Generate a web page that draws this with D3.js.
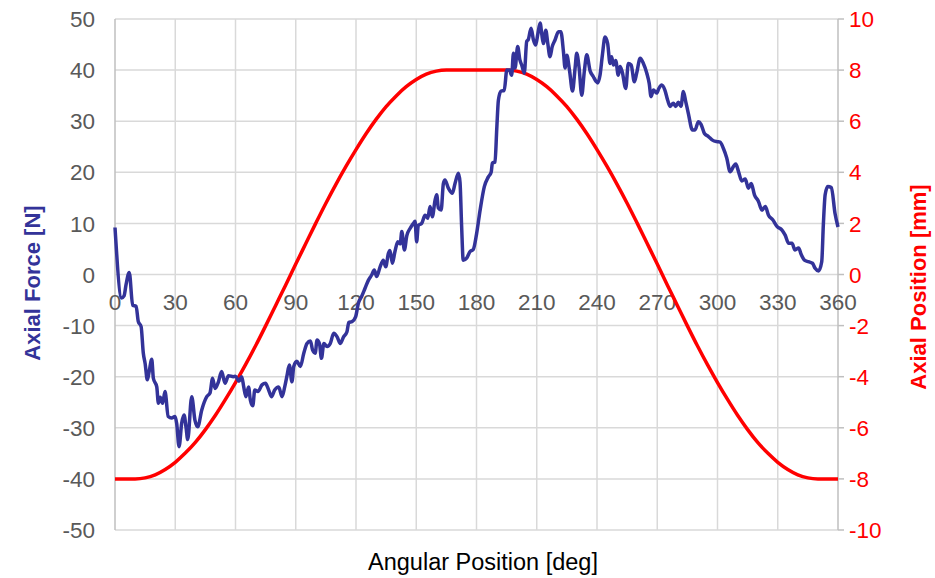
<!DOCTYPE html>
<html>
<head>
<meta charset="utf-8">
<script src="https://cdn.jsdelivr.net/npm/d3@7"></script>
<style>
  html, body { margin: 0; padding: 0; background: #ffffff; }
  svg { display: block; font-family: "Liberation Sans", Arial, sans-serif; }
</style>
</head>
<body>
<svg id="chart" width="935" height="578"></svg>
<script>
// ---------------- DATA ----------------
const xTickLabels = [0, 30, 60, 90, 120, 150, 180, 210, 240, 270, 300, 330, 360];
const forceTickLabels = [-50, -40, -30, -20, -10, 0, 10, 20, 30, 40, 50];
const positionTickLabels = [-10, -8, -6, -4, -2, 0, 2, 4, 6, 8, 10];

// Axial force [N] vs angular position [deg]
const forceDeg = [
  0, 3.3, 4.5, 5.5, 7.1, 8.8, 10.5, 11.6, 13, 14.1, 15, 16.1, 17, 18.3, 19.1, 20.8, 21.6, 22.5, 23.7, 24.9,
  26.5, 28.2, 29.9, 30.7, 31.9, 33.2, 34.4, 35.4, 36.2, 38.2, 39.8, 41.2, 43.2, 45.7, 47.3, 48.6, 49.8, 51.5, 53.1, 54.8,
  56.5, 58.9, 60, 61.7, 63.1, 64.1, 65.2, 66.5, 67.4, 68.6, 69.6, 71.2, 73.2, 74.9, 76.5, 77.9, 79.5, 81.5, 83.2, 84.5,
  85.7, 86.8, 88.1, 89, 90.6, 92.3, 94, 95.6, 97.3, 98.4, 99.7, 100.6, 101.8, 102.8, 104, 105.6, 107.2, 108.9, 110.6, 112.2,
  113.8, 115.5, 116.4, 118.1, 119.8, 121.2, 122.8, 124.5, 126.2, 127.8, 129.1, 130.3, 132, 133.6, 134.8, 136.1, 136.9, 138.1, 139.4, 140.8,
  142, 142.8, 144.1, 145.3, 146.9, 148.6, 149.4, 150.2, 151, 152.7, 154.4, 155.7, 156.9, 158, 159.4, 160.2, 161, 162.4, 163.5, 164.3,
  166, 168, 169.3, 171, 171.8, 172.6, 173.4, 175.1, 176.8, 178.4, 180.1, 181.8, 183.9, 185.9, 187.3, 187.9, 189.2, 190.1, 190.9, 192.2,
  193.8, 195.1, 196.4, 197.5, 198.4, 199.2, 200.5, 201.6, 202.5, 203.8, 205, 205.8, 207.2, 208.3, 209.5, 210.5, 211.7, 212.5, 213.3, 214.5,
  215.5, 216.6, 217.7, 219.1, 220.8, 222, 223.3, 224.1, 225, 226.3, 227.8, 229.1, 229.9, 231.1, 232.4, 233.7, 234.9, 236.6, 238.2, 239.5,
  240.4, 241.5, 242.7, 244, 245.3, 246.5, 247.3, 248.2, 249.3, 250.6, 251.5, 252.6, 254.3, 255.6, 257, 258.6, 259.7, 261.5, 263.1, 264.8,
  266, 266.9, 268.1, 269.7, 270.8, 272.2, 273.8, 275.2, 276.4, 278, 279.2, 280.5, 281.8, 283, 284.2, 285.5, 287.5, 288.8, 290.5, 291.8,
  293.5, 295.5, 297.5, 299.6, 301.3, 302.9, 304.6, 306.3, 307.9, 309.1, 310.5, 312.1, 313.8, 315.4, 316.8, 318.4, 320.4, 322.1, 323.8, 325.4,
  327.5, 329.6, 332.1, 333.7, 335.4, 337.1, 338.6, 340.4, 341.7, 343.3, 345.3, 347.3, 348.6, 350.3, 351.9, 352.7, 353.6, 354.9, 356.7, 358.5,
  360
];
const forceN = [
  9.2, -4.6, -4.2, -2, 0.4, -6, -6.2, -9.2, -10.2, -15.4, -17.4, -20.6, -19, -16.6, -20.3, -22, -25.2, -24, -25.2, -22.9,
  -27.8, -28.1, -27.8, -29.1, -33.7, -29.1, -27.5, -30, -32.3, -23.9, -28.5, -29.8, -26.5, -23.9, -23.2, -20.3, -22.3, -21, -19, -21.3,
  -19.8, -20, -19.9, -20.9, -20, -22, -23.9, -22, -24.6, -25.7, -22.6, -22.9, -21.6, -21.3, -22.6, -23.9, -22.6, -22, -23.9, -22,
  -19.7, -17.7, -21, -18, -17, -18, -15.4, -13.5, -13, -14.8, -15.4, -12.8, -13.5, -16.4, -13.5, -14.1, -13.5, -11.5, -12.2, -13.5,
  -12.2, -11.2, -9.4, -9.2, -8.3, -5.6, -4.3, -2.7, -1.1, -0.1, 0.9, -0.4, 1.5, 2.8, 1.5, 4.1, 4.7, 2.2, 4.5, 6.4,
  6, 8.4, 4.8, 7.6, 9, 10, 10.4, 6.4, 9.6, 10, 11.6, 11, 13.3, 11.3, 14.6, 15.6, 13, 12.6, 17.8, 18.5,
  16.9, 15.9, 17.8, 19.8, 18, 9.4, 2.8, 3.2, 4.5, 4.9, 8.1, 12.6, 17.2, 19.1, 20, 21.8, 22, 28.6, 34.1, 35.9,
  36, 40, 40, 39, 43.3, 40.4, 44.6, 42, 41, 39.4, 45.6, 46, 48.2, 46, 44.9, 47, 49.2, 47, 45.2, 47.8,
  45.2, 42.6, 44.6, 45.9, 47.5, 47.5, 43.6, 40.4, 42.9, 40, 35.9, 40.4, 43.3, 40.4, 35.1, 39.8, 43, 39.8, 38.7, 37.8,
  37.5, 39, 43, 46.5, 45.2, 41.3, 42.6, 41, 41.9, 39, 40.7, 39.6, 36.4, 41.3, 41, 37.7, 39.3, 42.3, 41.3, 39.4,
  37.4, 34.8, 36.1, 35.5, 36.4, 37.1, 36.1, 34.1, 32.9, 33.5, 32.9, 33.7, 32.9, 35.8, 33.8, 31.5, 28.3, 28.3, 29.9, 29.4,
  27.6, 27, 26.3, 26, 25.9, 24.7, 22.8, 20.1, 21.1, 21.6, 20.1, 18.3, 18.7, 16.9, 17.8, 15.6, 14.3, 12.6, 13.3, 11.6,
  10.7, 9.4, 8.7, 7.7, 6.1, 6.1, 4.8, 5.2, 3.9, 2.8, 2.5, 2.2, 1.2, 0.7, 2.5, 9.7, 15.6, 17.2, 17, 12,
  9.3
];

// Axial position [mm] vs angular position [deg]
const positionDeg = [
  0, 5, 10, 15, 20, 25, 30, 35, 40, 45, 50, 55, 60, 65, 70, 75, 80, 85, 90, 95,
  100, 105, 110, 115, 120, 125, 130, 135, 140, 145, 150, 155, 160, 165, 170, 175, 180, 185, 190, 195,
  200, 205, 210, 215, 220, 225, 230, 235, 240, 245, 250, 255, 260, 265, 270, 275, 280, 285, 290, 295,
  300, 305, 310, 315, 320, 325, 330, 335, 340, 345, 350, 355, 360
];
const positionMm = [
  -8, -8, -8, -7.96, -7.84, -7.63, -7.35, -6.99, -6.57, -6.07, -5.51, -4.89, -4.23, -3.53, -2.79, -2.01, -1.21, -0.41, 0.41, 1.21,
  2.01, 2.79, 3.53, 4.23, 4.89, 5.51, 6.07, 6.57, 6.99, 7.35, 7.63, 7.84, 7.96, 8, 8, 8, 8, 8, 8, 8,
  7.96, 7.84, 7.63, 7.35, 6.99, 6.57, 6.07, 5.51, 4.89, 4.23, 3.53, 2.79, 2.01, 1.21, 0.41, -0.41, -1.21, -2.01, -2.79, -3.53,
  -4.23, -4.89, -5.51, -6.07, -6.57, -6.99, -7.35, -7.63, -7.84, -7.96, -8, -8, -8
];

// ---------------- CHART ----------------
const svg = d3.select("#chart");
const mLeft = 115, mRight = 838, mTop = 19, mBottom = 530;

const x = d3.scaleLinear().domain([0, 360]).range([mLeft, mRight]);
const yF = d3.scaleLinear().domain([-50, 50]).range([mBottom, mTop]);
const yP = d3.scaleLinear().domain([-10, 10]).range([mBottom, mTop]);

const gridColor = "#d9d9d9";
const axisColor = "#bfbfbf";
const tickText = "#595959";
const fontSize = 22.5;

// horizontal gridlines
svg.append("g").selectAll("line").data(forceTickLabels).join("line")
  .attr("x1", mLeft).attr("x2", mRight)
  .attr("y1", d => yF(d)).attr("y2", d => yF(d))
  .attr("stroke", gridColor).attr("stroke-width", 1.5);

// vertical gridlines
svg.append("g").selectAll("line").data(xTickLabels.filter(d => d !== 0 && d !== 360)).join("line")
  .attr("x1", d => x(d)).attr("x2", d => x(d))
  .attr("y1", mTop).attr("y2", mBottom)
  .attr("stroke", gridColor).attr("stroke-width", 1.5);

// left and right axis lines
svg.append("line").attr("x1", mLeft).attr("x2", mLeft).attr("y1", mTop).attr("y2", mBottom)
  .attr("stroke", axisColor).attr("stroke-width", 1.5);
svg.append("line").attr("x1", mRight).attr("x2", mRight).attr("y1", mTop).attr("y2", mBottom)
  .attr("stroke", axisColor).attr("stroke-width", 1.5);

// right axis outward ticks
svg.append("g").selectAll("line").data(positionTickLabels).join("line")
  .attr("x1", mRight).attr("x2", mRight + 6)
  .attr("y1", d => yP(d)).attr("y2", d => yP(d))
  .attr("stroke", axisColor).attr("stroke-width", 1.5);

// left tick labels
svg.append("g").selectAll("text").data(forceTickLabels).join("text")
  .attr("x", mLeft - 20).attr("y", d => yF(d))
  .attr("dy", "0.36em")
  .attr("text-anchor", "end")
  .attr("font-size", fontSize).attr("fill", tickText)
  .text(d => d);

// right tick labels
svg.append("g").selectAll("text").data(positionTickLabels).join("text")
  .attr("x", mRight + 11).attr("y", d => yP(d))
  .attr("dy", "0.36em")
  .attr("text-anchor", "start")
  .attr("font-size", fontSize).attr("fill", "#ff0000")
  .text(d => d);

// x tick labels (placed below the zero line)
svg.append("g").selectAll("text").data(xTickLabels).join("text")
  .attr("x", d => x(d)).attr("y", yF(0) + 35)
  .attr("text-anchor", "middle")
  .attr("font-size", fontSize).attr("fill", tickText)
  .text(d => d);

// axis titles
svg.append("text")
  .attr("transform", `translate(40, 283) rotate(-90)`)
  .attr("text-anchor", "middle")
  .attr("font-size", 22).attr("font-weight", "bold").attr("fill", "#333399")
  .text("Axial Force [N]");

svg.append("text")
  .attr("transform", `translate(926, 287) rotate(-90)`)
  .attr("text-anchor", "middle")
  .attr("font-size", 22).attr("font-weight", "bold").attr("fill", "#ff0000")
  .text("Axial Position [mm]");

svg.append("text")
  .attr("x", 483).attr("y", 570)
  .attr("text-anchor", "middle")
  .attr("font-size", 23.5).attr("fill", "#000000")
  .text("Angular Position [deg]");

// series
const forceData = forceDeg.map((d, i) => ({ x: d, y: forceN[i] }));
const positionData = positionDeg.map((d, i) => ({ x: d, y: positionMm[i] }));

svg.append("path").datum(positionData)
  .attr("fill", "none").attr("stroke", "#ff0000").attr("stroke-width", 3.5)
  .attr("stroke-linejoin", "round")
  .attr("d", d3.line().x(d => x(d.x)).y(d => yP(d.y)).curve(d3.curveMonotoneX));

svg.append("path").datum(forceData)
  .attr("fill", "none").attr("stroke", "#333399").attr("stroke-width", 3.5)
  .attr("stroke-linejoin", "round")
  .attr("d", d3.line().x(d => x(d.x)).y(d => yF(d.y)).curve(d3.curveMonotoneX));
</script>
</body>
</html>
